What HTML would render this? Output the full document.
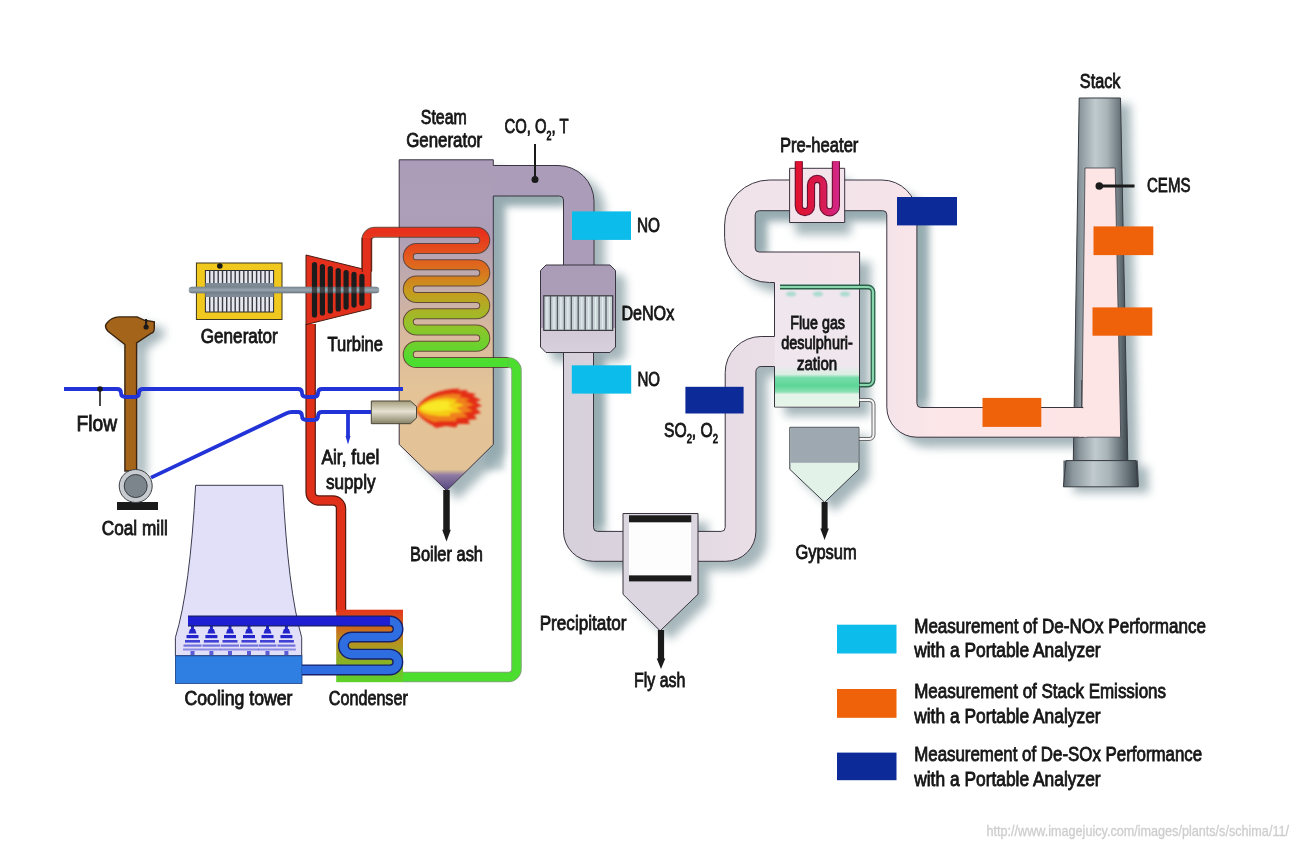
<!DOCTYPE html>
<html><head><meta charset="utf-8">
<style>
html,body{margin:0;padding:0;background:#fff;width:1300px;height:849px;overflow:hidden}
svg{display:block}
text{font-family:"Liberation Sans",sans-serif;fill:#161616;stroke:#161616;stroke-width:0.85}
</style></head><body>
<svg width="1300" height="849" viewBox="0 0 1300 849">
<defs>
  <filter id="blur3" x="-50%" y="-50%" width="200%" height="200%"><feGaussianBlur stdDeviation="3"/></filter>
  <filter id="blur5" x="-50%" y="-50%" width="200%" height="200%"><feGaussianBlur stdDeviation="5"/></filter>
  <filter id="blur1" x="-50%" y="-50%" width="200%" height="200%"><feGaussianBlur stdDeviation="0.8"/></filter>
  <linearGradient id="gBoiler" x1="0" y1="160" x2="0" y2="491" gradientUnits="userSpaceOnUse">
    <stop offset="0" stop-color="#ab9db9"/>
    <stop offset="0.22" stop-color="#ad9eb8"/>
    <stop offset="0.52" stop-color="#d8b99e"/>
    <stop offset="0.7" stop-color="#e4c497"/>
    <stop offset="0.935" stop-color="#e2c296"/>
    <stop offset="0.952" stop-color="#8e7aa2"/>
    <stop offset="1" stop-color="#52427e"/>
  </linearGradient>
  <linearGradient id="gCoil" x1="0" y1="232" x2="0" y2="363" gradientUnits="userSpaceOnUse">
    <stop offset="0" stop-color="#e8301c"/>
    <stop offset="0.22" stop-color="#e2601e"/>
    <stop offset="0.45" stop-color="#c89a1e"/>
    <stop offset="0.7" stop-color="#96c22a"/>
    <stop offset="1" stop-color="#4ade30"/>
  </linearGradient>
  <linearGradient id="gCond" x1="0" y1="610" x2="0" y2="682" gradientUnits="userSpaceOnUse">
    <stop offset="0" stop-color="#e4361a"/>
    <stop offset="0.45" stop-color="#b8921e"/>
    <stop offset="1" stop-color="#5cd22a"/>
  </linearGradient>
  <linearGradient id="gU" x1="563" y1="0" x2="756" y2="0" gradientUnits="userSpaceOnUse">
    <stop offset="0" stop-color="#d6d0db"/>
    <stop offset="0.5" stop-color="#ddd6df"/>
    <stop offset="1" stop-color="#ebdfe7"/>
  </linearGradient>
  <linearGradient id="gC" x1="724" y1="0" x2="1083" y2="0" gradientUnits="userSpaceOnUse">
    <stop offset="0" stop-color="#efe3ea"/>
    <stop offset="0.45" stop-color="#f4e4ea"/>
    <stop offset="0.6" stop-color="#fce6e8"/>
    <stop offset="1" stop-color="#fde5e6"/>
  </linearGradient>
  <linearGradient id="gDenox" x1="0" y1="265" x2="0" y2="353" gradientUnits="userSpaceOnUse">
    <stop offset="0" stop-color="#aa9bb7"/>
    <stop offset="0.72" stop-color="#ad9fba"/>
    <stop offset="0.72" stop-color="#d2c9d7"/>
    <stop offset="1" stop-color="#d8d0dc"/>
  </linearGradient>
  <linearGradient id="gStack" x1="0" y1="0" x2="1" y2="0">
    <stop offset="0" stop-color="#5e686e"/>
    <stop offset="0.12" stop-color="#8a969c"/>
    <stop offset="0.4" stop-color="#c0cacf"/>
    <stop offset="0.62" stop-color="#a8b4b8"/>
    <stop offset="0.85" stop-color="#6a767c"/>
    <stop offset="1" stop-color="#3c454c"/>
  </linearGradient>
  <linearGradient id="gStackTop" x1="0" y1="98" x2="0" y2="170" gradientUnits="userSpaceOnUse">
    <stop offset="0" stop-color="#ffffff" stop-opacity="0"/>
    <stop offset="0.7" stop-color="#ffffff" stop-opacity="0.05"/>
    <stop offset="1" stop-color="#ffffff" stop-opacity="0"/>
  </linearGradient>
  <linearGradient id="gBurner" x1="0" y1="401" x2="0" y2="424" gradientUnits="userSpaceOnUse">
    <stop offset="0" stop-color="#a49c7c"/>
    <stop offset="0.45" stop-color="#e6e2d2"/>
    <stop offset="1" stop-color="#847e62"/>
  </linearGradient>
  <linearGradient id="gShaft" x1="0" y1="286" x2="0" y2="294" gradientUnits="userSpaceOnUse">
    <stop offset="0" stop-color="#6e7a84"/>
    <stop offset="0.5" stop-color="#9aa8b2"/>
    <stop offset="1" stop-color="#5e6a74"/>
  </linearGradient>
</defs>
<rect width="1300" height="849" fill="#ffffff"/>

<!-- shadows -->
<g fill="#6f8a92" opacity="0.62" filter="url(#blur5)">
<path transform="translate(11,9)" d="M399.2,159.8 H493.3 V165.5 H558 A36 36 0 0 1 594,201.5 V265 H563.5 V200 A4 4 0 0 0 559.5,196 H493.3 V444.5 L446.7,490.6 L399.2,444.5 Z"/>
<path transform="translate(10,9)" d="M546,265 H610 L615.5,270.5 V347 L610,352.5 H546 L540.5,347 V270.5 Z"/>
<path transform="translate(11,9)" d="M563.5,352.5 V531.3 A30 30 0 0 0 593.5,561.3 H725.9 A30 30 0 0 0 755.9,531.3 V371.5 A5 5 0 0 1 760.9,366.5 H777 V336.5 H761.2 A36 36 0 0 0 725.2,372.5 V527.4 A4 4 0 0 1 721.2,531.4 H597.5 A4 4 0 0 1 593.5,527.4 V352.5 Z"/>
<path transform="translate(10,9)" d="M623,513.5 H698 V594.3 L660.2,630.8 L623,594.3 Z"/>
<path transform="translate(11,10)" d="M774.5,282.5 H769.6 A45 45 0 0 1 724.6,237.5 V225 A45 45 0 0 1 769.6,180 H881.9 A35 35 0 0 1 916.9,215 V403.5 A4 4 0 0 0 920.9,407.5 H1083 V437.2 H916.8 A30 30 0 0 1 886.8,407.2 V214.7 A4 4 0 0 0 882.8,210.7 H759.2 A4 4 0 0 0 755.2,214.7 V248 A4 4 0 0 0 759.2,252 H859.6 V282.5 Z"/>
<path transform="translate(10,9)" d="M774.5,282.5 H859.5 V407 H774.5 Z"/>
<path transform="translate(10,9)" d="M789.8,427.3 H858.9 V469.3 L824.6,502.3 L789.8,469.3 Z"/>
<path transform="translate(10,6)" d="M1079.2,98 H1120.5 L1127.8,460.6 H1137.7 L1139,486.8 H1063.4 V460.6 H1073.3 Z"/>
<path transform="translate(10,6)" d="M124.9,344.5 L108,331.2 C105,328 105,325 107,323 C110,319 114,317 119.1,316.9 H137.1 L144.5,320.3 L154.3,321.9 V328 C154.3,331 153,333 150.9,333.3 L136.6,342.9 V471 H124.9 Z"/>
<path transform="translate(6,12)" d="M789.6,168.3 H844.7 V222.5 H789.6 Z"/>
</g>
<g fill="#86a0a6" opacity="0.55" filter="url(#blur3)">
<path d="M485,188 H563 V205 H504 V470 H485 Z"/>
<path d="M585,352 H604 V525 H585 Z"/>
<path d="M748,204 H887 V219 H766 V252 H748 Z"/>
<path d="M910,210 H928 V400 H910 Z"/>
</g>
<path d="M490,165.5 H558 A36 36 0 0 1 594,201.5 V265 H563.5 V200 A4 4 0 0 0 559.5,196 H490 Z" fill="#ab9db9"/>
<path d="M399.2,159.8 H493.3 V444.5 L446.7,490.6 L399.2,444.5 Z" fill="url(#gBoiler)"/>
<path d="M563.5,265 V200 A4 4 0 0 0 559.5,196 H493.3 V444.5 L446.7,490.6 L399.2,444.5 V159.8 H493.3 V165.5 H558 A36 36 0 0 1 594,201.5 V265" fill="none" stroke="#3a3440" stroke-width="1"/>
<path d="M563.5,352.5 V531.3 A30 30 0 0 0 593.5,561.3 H725.9 A30 30 0 0 0 755.9,531.3 V371.5 A5 5 0 0 1 760.9,366.5 H777 V336.5 H761.2 A36 36 0 0 0 725.2,372.5 V527.4 A4 4 0 0 1 721.2,531.4 H597.5 A4 4 0 0 1 593.5,527.4 V352.5 Z" fill="url(#gU)" stroke="#3a3440" stroke-width="1"/>
<path d="M546,265 H610 L615.5,270.5 V347 L610,352.5 H546 L540.5,347 V270.5 Z" fill="url(#gDenox)" stroke="#3a3440" stroke-width="1"/>
<rect x="543.8" y="295.8" width="68.9" height="34.6" fill="#c6d2d6" stroke="#3a3a40" stroke-width="1.2"/>
<g stroke="#55595f" stroke-width="1.3"><line x1="550.5" y1="296" x2="550.5" y2="330"/><line x1="557.4" y1="296" x2="557.4" y2="330"/><line x1="564.4" y1="296" x2="564.4" y2="330"/><line x1="571.3" y1="296" x2="571.3" y2="330"/><line x1="578.2" y1="296" x2="578.2" y2="330"/><line x1="585.2" y1="296" x2="585.2" y2="330"/><line x1="592.1" y1="296" x2="592.1" y2="330"/><line x1="599.1" y1="296" x2="599.1" y2="330"/><line x1="606.0" y1="296" x2="606.0" y2="330"/></g>
<g stroke="#eef2f4" stroke-width="1.2" opacity="0.8"><line x1="547.0" y1="297" x2="547.0" y2="329"/><line x1="554.0" y1="297" x2="554.0" y2="329"/><line x1="560.9" y1="297" x2="560.9" y2="329"/><line x1="567.9" y1="297" x2="567.9" y2="329"/><line x1="574.8" y1="297" x2="574.8" y2="329"/><line x1="581.8" y1="297" x2="581.8" y2="329"/><line x1="588.7" y1="297" x2="588.7" y2="329"/><line x1="595.6" y1="297" x2="595.6" y2="329"/><line x1="602.6" y1="297" x2="602.6" y2="329"/><line x1="609.5" y1="297" x2="609.5" y2="329"/></g>
<path d="M623,513.5 H698 V594.3 L660.2,630.8 L623,594.3 Z" fill="#dcd6e0" stroke="#3a3440" stroke-width="1"/>
<rect x="629" y="522" width="62" height="53.5" fill="#fdfdfd"/>
<rect x="629" y="515.3" width="62.3" height="7" fill="#1c1c1c"/>
<rect x="629" y="575.4" width="62.3" height="6" fill="#1c1c1c"/>
<path d="M1079.2,98 H1120.5 L1127.8,460.6 H1137.7 L1139,486.8 H1063.4 V460.6 H1073.3 Z" fill="url(#gStack)"/>
<path d="M1079.2,98 H1120.5 L1127.8,460.6 H1073.3 Z" fill="url(#gStack)" stroke="#3a3e44" stroke-width="1"/>
<path d="M1066,460.6 H1136 L1138,486.8 H1063.4 Z" fill="url(#gStack)" stroke="#3a3e44" stroke-width="1"/>
<path d="M1085,168 H1115.2 L1120.7,437.2 H1081.6 Z" fill="#fde5e6" stroke="#3a3e44" stroke-width="0.8"/>
<path d="M774.5,282.5 H769.6 A45 45 0 0 1 724.6,237.5 V225 A45 45 0 0 1 769.6,180 H881.9 A35 35 0 0 1 916.9,215 V403.5 A4 4 0 0 0 920.9,407.5 H1083 V437.2 H916.8 A30 30 0 0 1 886.8,407.2 V214.7 A4 4 0 0 0 882.8,210.7 H759.2 A4 4 0 0 0 755.2,214.7 V248 A4 4 0 0 0 759.2,252 H859.6 V282.5 Z" fill="url(#gC)" stroke="#3a3440" stroke-width="1"/>
<rect x="1079" y="408.2" width="8" height="28.5" fill="#fde5e6"/>
<path d="M1081.6,407.5 V380" stroke="#3a3e44" stroke-width="0.8"/>
<rect x="774.5" y="282" width="85" height="125" fill="#efe6ee"/>
<path d="M774.5,282.5 V336.5 M774.5,366.5 V407 H859.5 V282.5" fill="none" stroke="#3a3440" stroke-width="1"/>
<linearGradient id="gFgd" x1="0" y1="365" x2="0" y2="407" gradientUnits="userSpaceOnUse"><stop offset="0" stop-color="#efe6ee"/><stop offset="0.22" stop-color="#dcefe4"/><stop offset="0.3" stop-color="#78dcaa"/><stop offset="0.5" stop-color="#5cd696"/><stop offset="0.64" stop-color="#8ee0b4"/><stop offset="0.7" stop-color="#e4f4e8"/><stop offset="1" stop-color="#e8f6ea"/></linearGradient>
<rect x="775" y="365" width="84" height="41.5" fill="url(#gFgd)"/>
<g fill="#9ad8c8" opacity="0.8" filter="url(#blur1)"><ellipse cx="791" cy="294" rx="5" ry="2.5"/><ellipse cx="818" cy="294" rx="5" ry="2.5"/><ellipse cx="845" cy="294" rx="5" ry="2.5"/></g>
<path d="M780,287 H868 A5 5 0 0 1 873,292 V380 A5 5 0 0 1 868,385 H859.5" fill="none" stroke="#2a6248" stroke-width="4.8"/>
<path d="M780,287 H868 A5 5 0 0 1 873,292 V380 A5 5 0 0 1 868,385 H859.5" fill="none" stroke="#8ad4ae" stroke-width="2.2"/>
<path d="M859.5,400 H869 A4.5 4.5 0 0 1 873.5,404.5 V434.5 A4.5 4.5 0 0 1 869,439 H859" fill="none" stroke="#6a6a6a" stroke-width="4"/>
<path d="M859.5,400 H869 A4.5 4.5 0 0 1 873.5,404.5 V434.5 A4.5 4.5 0 0 1 869,439 H859" fill="none" stroke="#f6f6f6" stroke-width="2"/>
<path d="M789.8,427.3 H858.9 V469.3 L824.6,502.3 L789.8,469.3 Z" fill="#e2f2e8" stroke="#3a3e44" stroke-width="1"/>
<rect x="790.3" y="427.8" width="68.1" height="35" fill="#9ea8b0"/>
<path d="M824.6,502 V530" stroke="#1a1a1a" stroke-width="6"/>
<path d="M820.3,528.5 H828.9 L824.6,540 Z" fill="#1a1a1a"/>
<path d="M789.6,168.3 H844.7 V222.5 H789.6 Z" fill="#f2e4ea" stroke="#3a3440" stroke-width="1"/>
<linearGradient id="gPh" x1="795" y1="0" x2="840" y2="0" gradientUnits="userSpaceOnUse"><stop offset="0" stop-color="#e2102c"/><stop offset="0.6" stop-color="#d81a50"/><stop offset="1" stop-color="#d42890"/></linearGradient>
<path d="M798.8,161.3 V206 A6.1 6.1 0 0 0 811,206 V185 A6.15 6.15 0 0 1 823.3,185 V206 A6.3 6.3 0 0 0 835.9,206 V161.3" fill="none" stroke="#6a1034" stroke-width="8.2"/>
<path d="M798.8,161.3 V206 A6.1 6.1 0 0 0 811,206 V185 A6.15 6.15 0 0 1 823.3,185 V206 A6.3 6.3 0 0 0 835.9,206 V161.3" fill="none" stroke="url(#gPh)" stroke-width="6"/>
<path d="M366.75,271 V240.2 A8 8 0 0 1 374.75,232.2 H476.6 A8.15 8.15 0 0 1 476.6,248.5 H416.4 A8.15 8.15 0 0 0 416.4,264.8 H476.6 A8.15 8.15 0 0 1 476.6,281.1 H416.4 A8.15 8.15 0 0 0 416.4,297.4 H476.6 A8.15 8.15 0 0 1 476.6,313.7 H416.4 A8.15 8.15 0 0 0 416.4,330 H476.6 A8.15 8.15 0 0 1 476.6,346.3 H416.4 A8.15 8.15 0 0 0 416.4,362.6 H508.5" fill="none" stroke="#4a3020" stroke-width="11" stroke-linejoin="round" opacity="0.8"/>
<path d="M508.5,362.6 A8 8 0 0 1 516.5,370.6 V669 A8 8 0 0 1 508.5,677 H403" fill="none" stroke="#2a6a1a" stroke-width="10.5" opacity="0.6"/>
<path d="M366.75,271 V240.2 A8 8 0 0 1 374.75,232.2 H476.6 A8.15 8.15 0 0 1 476.6,248.5 H416.4 A8.15 8.15 0 0 0 416.4,264.8 H476.6 A8.15 8.15 0 0 1 476.6,281.1 H416.4 A8.15 8.15 0 0 0 416.4,297.4 H476.6 A8.15 8.15 0 0 1 476.6,313.7 H416.4 A8.15 8.15 0 0 0 416.4,330 H476.6 A8.15 8.15 0 0 1 476.6,346.3 H416.4 A8.15 8.15 0 0 0 416.4,362.6 H508.5" fill="none" stroke="url(#gCoil)" stroke-width="9"/>
<path d="M508.5,362.6 A8 8 0 0 1 516.5,370.6 V669 A8 8 0 0 1 508.5,677 H403" fill="none" stroke="#4cde2e" stroke-width="8.5"/>
<g filter="url(#blur1)">
<path d="M416,410 C420,399 434,391 452,389 L460,388.5 L458,390.5 L468,390 L466,392 L476,394 L473,396 L481,400 L476,402 L482,406 L476,408 L481,413 L474,415 L477,419 L468,420 L470,424 L458,424 L456,427.5 L446,426 L436,428 L432,425 C424,421 418,416 416,410 Z" fill="#e42e18"/>
<path d="M417,410 C422,401 434,395 452,394 L462,394.5 L459,397 L470,399 L465,401 L474,405 L466,407 L473,411 L463,413 L468,417 L456,418 L456,421 L442,421 L434,422 C426,419 419,415 417,410 Z" fill="#f0801c"/>
<path d="M418,409 C423,402 434,398 448,398 L458,399.5 L454,402 L464,405 L456,408 L462,412 L450,413 L450,416 L438,416 C429,415 421,413 418,409 Z" fill="#f6cc18"/>
<path d="M420,408 C426,403 436,400 446,401 L452,403 L448,406 L454,409 L442,411 C432,412 424,411 420,408 Z" fill="#f8e828"/>
</g>
<path d="M371.3,401 H410.5 L416.5,406.5 V418 L410.5,423.7 H371.3 Z" fill="url(#gBurner)" stroke="#4a4638" stroke-width="1"/>
<path d="M446.5,490 V531" stroke="#1a1a1a" stroke-width="6.5"/>
<path d="M442.2,529.8 H450.8 L446.5,541.5 Z" fill="#1a1a1a"/>
<path d="M661,630 V660" stroke="#1a1a1a" stroke-width="6.2"/>
<path d="M656.7,658.6 H665.3 L661,669 Z" fill="#1a1a1a"/>
<path d="M310.65,324 V492.5 A8 8 0 0 0 318.65,500.5 H333 A8 8 0 0 1 341,508.5 V612" fill="none" stroke="#5a1a10" stroke-width="10.5"/>
<path d="M310.65,324 V492.5 A8 8 0 0 0 318.65,500.5 H333 A8 8 0 0 1 341,508.5 V612" fill="none" stroke="#e0301a" stroke-width="8"/>
<rect x="196.4" y="263" width="85.6" height="56.5" fill="#f0c81e" stroke="#3a3420" stroke-width="1"/>
<rect x="205.4" y="270.5" width="68.2" height="41.5" fill="#e6e8ee" stroke="#2a2a30" stroke-width="1"/>
<g stroke="#3a3c44" stroke-width="1.4"><path d="M209.7,270.5 V283 M209.7,297 V312"/><path d="M213.9,270.5 V283 M213.9,297 V312"/><path d="M218.2,270.5 V283 M218.2,297 V312"/><path d="M222.5,270.5 V283 M222.5,297 V312"/><path d="M226.7,270.5 V283 M226.7,297 V312"/><path d="M231.0,270.5 V283 M231.0,297 V312"/><path d="M235.2,270.5 V283 M235.2,297 V312"/><path d="M239.5,270.5 V283 M239.5,297 V312"/><path d="M243.8,270.5 V283 M243.8,297 V312"/><path d="M248.0,270.5 V283 M248.0,297 V312"/><path d="M252.3,270.5 V283 M252.3,297 V312"/><path d="M256.6,270.5 V283 M256.6,297 V312"/><path d="M260.8,270.5 V283 M260.8,297 V312"/><path d="M265.1,270.5 V283 M265.1,297 V312"/><path d="M269.3,270.5 V283 M269.3,297 V312"/></g>
<rect x="205.4" y="283" width="68.2" height="14" fill="#7e8a96"/>
<circle cx="219.8" cy="266" r="2.8" fill="#1a1a1a"/>
<path d="M306,255 L371,271 V308.5 L306,324.6 Z" fill="#e2301c" stroke="#4a1a10" stroke-width="1"/>
<path d="M366.75,272 V238" stroke="#5a1a10" stroke-width="10"/><path d="M366.75,272 V238" stroke="#e2301c" stroke-width="8"/>
<path d="M192,290 H376" stroke="url(#gShaft)" stroke-width="6.5" stroke-linecap="round"/>
<g fill="#1c1c1c"><rect x="311.9" y="262.1" width="5.2" height="55.4" rx="2.6"/><rect x="319.8" y="264.0" width="5.2" height="51.5" rx="2.6"/><rect x="327.7" y="266.0" width="5.2" height="47.6" rx="2.6"/><rect x="335.6" y="267.9" width="5.2" height="43.7" rx="2.6"/><rect x="343.5" y="269.9" width="5.2" height="39.8" rx="2.6"/><rect x="351.4" y="271.8" width="5.2" height="35.9" rx="2.6"/><rect x="359.3" y="273.8" width="5.2" height="32.0" rx="2.6"/></g>
<path d="M192,290 H376" stroke="url(#gShaft)" stroke-width="6.5" stroke-linecap="round" opacity="0.3"/>
<path d="M124.9,344.5 L108,331.2 C105,328 105,325 107,323 C110,319 114,317 119.1,316.9 H137.1 L144.5,320.3 L154.3,321.9 V328 C154.3,331 153,333 150.9,333.3 L136.6,342.9 V471 H124.9 Z" fill="#a4641a" stroke="#3a2410" stroke-width="1.4"/>
<circle cx="146.1" cy="327" r="2.6" fill="#1a1a1a"/><path d="M146.1,327 V319" stroke="#1a1a1a" stroke-width="2"/>
<rect x="117" y="502" width="41" height="8" fill="#1a1a1a"/>
<circle cx="135.7" cy="486" r="16.5" fill="#c8ccd0" stroke="#3a3e44" stroke-width="1"/>
<circle cx="135.7" cy="486" r="11.5" fill="#7c858c" stroke="#3a3e44" stroke-width="1"/>
<g fill="none" stroke="#2233d8" stroke-width="3.8" stroke-linejoin="round">
  <path d="M64,389 H117 Q121,389 121,393 Q121,397 126,397 H134 Q139,397 139,393 Q139,389 143,389 H298 Q302,389 302,393 Q302,397 307,397 H314 Q318,397 318,393 Q318,389 322,389 H403"/>
  <path d="M151,477.6 L286,413.5 C288,412.5 290,412 292,412 H298 Q302,412 302,416 Q302,420 307,420 H314 Q318,420 318,416 Q318,412 322,412 H371"/>
  <path d="M348,412 V438"/>
</g>
<path d="M345.5,436 H350.5 L348,444.5 Z" fill="#2233d8"/>
<circle cx="100" cy="389" r="2.8" fill="#1a1a1a"/><path d="M100,389 V406" stroke="#1a1a1a" stroke-width="1.6"/>
<path d="M195.6,485.3 H282.7 Q288,590 301.7,637.5 V655.8 H175.4 V637.5 Q190,590 195.6,485.3 Z" fill="#e2e0f8" stroke="#3a3a50" stroke-width="1"/>
<rect x="175.4" y="655.8" width="126.6" height="27.6" fill="#2f7fe2" stroke="#1a3a80" stroke-width="0.8"/>
<g fill="#2424cc"><rect x="191.0" y="625" width="3" height="4"/><path d="M190.0,629 H195.0 L196.5,633.5 H188.5 Z"/><rect x="186.5" y="635" width="12" height="3.2"/><rect x="185.0" y="640" width="15" height="2.6" opacity="0.85"/><rect x="183.5" y="644.5" width="18" height="2.2" opacity="0.6"/><rect x="183.0" y="648.5" width="19" height="2" opacity="0.45"/><rect x="190.5" y="651" width="4" height="4" opacity="0.7"/><rect x="209.9" y="625" width="3" height="4"/><path d="M208.9,629 H213.9 L215.4,633.5 H207.4 Z"/><rect x="205.4" y="635" width="12" height="3.2"/><rect x="203.9" y="640" width="15" height="2.6" opacity="0.85"/><rect x="202.4" y="644.5" width="18" height="2.2" opacity="0.6"/><rect x="201.9" y="648.5" width="19" height="2" opacity="0.45"/><rect x="209.4" y="651" width="4" height="4" opacity="0.7"/><rect x="228.5" y="625" width="3" height="4"/><path d="M227.5,629 H232.5 L234,633.5 H226 Z"/><rect x="224" y="635" width="12" height="3.2"/><rect x="222.5" y="640" width="15" height="2.6" opacity="0.85"/><rect x="221" y="644.5" width="18" height="2.2" opacity="0.6"/><rect x="220.5" y="648.5" width="19" height="2" opacity="0.45"/><rect x="228" y="651" width="4" height="4" opacity="0.7"/><rect x="247.5" y="625" width="3" height="4"/><path d="M246.5,629 H251.5 L253,633.5 H245 Z"/><rect x="243" y="635" width="12" height="3.2"/><rect x="241.5" y="640" width="15" height="2.6" opacity="0.85"/><rect x="240" y="644.5" width="18" height="2.2" opacity="0.6"/><rect x="239.5" y="648.5" width="19" height="2" opacity="0.45"/><rect x="247" y="651" width="4" height="4" opacity="0.7"/><rect x="266.0" y="625" width="3" height="4"/><path d="M265.0,629 H270.0 L271.5,633.5 H263.5 Z"/><rect x="261.5" y="635" width="12" height="3.2"/><rect x="260.0" y="640" width="15" height="2.6" opacity="0.85"/><rect x="258.5" y="644.5" width="18" height="2.2" opacity="0.6"/><rect x="258.0" y="648.5" width="19" height="2" opacity="0.45"/><rect x="265.5" y="651" width="4" height="4" opacity="0.7"/><rect x="284.9" y="625" width="3" height="4"/><path d="M283.9,629 H288.9 L290.4,633.5 H282.4 Z"/><rect x="280.4" y="635" width="12" height="3.2"/><rect x="278.9" y="640" width="15" height="2.6" opacity="0.85"/><rect x="277.4" y="644.5" width="18" height="2.2" opacity="0.6"/><rect x="276.9" y="648.5" width="19" height="2" opacity="0.45"/><rect x="284.4" y="651" width="4" height="4" opacity="0.7"/></g>
<rect x="336.2" y="609.7" width="66.8" height="72.5" fill="url(#gCond)"/>
<path d="M188,621 H390 A8 8 0 0 1 390,637 H352 A8.6 8.6 0 0 0 352,654.2 H390 A7.85 7.85 0 0 1 390,669.9 H302" fill="none" stroke="#18206a" stroke-width="11"/>
<path d="M188,621 H390 A8 8 0 0 1 390,637 H352 A8.6 8.6 0 0 0 352,654.2 H390 A7.85 7.85 0 0 1 390,669.9 H302" fill="none" stroke="#2e6ee0" stroke-width="8.2"/>
<path d="M188,621 H390" fill="none" stroke="#1e1ed2" stroke-width="8.6"/>
<rect x="572" y="211.4" width="59" height="28.5" fill="#0cbcea"/>
<rect x="571.8" y="365.3" width="59.4" height="28.3" fill="#0cbcea"/>
<rect x="685.4" y="386.8" width="58.2" height="26.7" fill="#0c2a98"/>
<rect x="897" y="197" width="60" height="28.4" fill="#0c2a98"/>
<rect x="1093.5" y="226.4" width="59.8" height="28.7" fill="#f0620a"/>
<rect x="1092.5" y="307.4" width="59.8" height="28.3" fill="#f0620a"/>
<rect x="982.5" y="397.9" width="58.8" height="29" fill="#f0620a"/>
<path d="M535,144 V179" stroke="#1a1a1a" stroke-width="2"/><circle cx="535" cy="179.5" r="3.5" fill="#1a1a1a"/>
<path d="M1099.3,186 H1134.5" stroke="#1a1a1a" stroke-width="2.8"/><circle cx="1099.3" cy="186" r="3.8" fill="#1a1a1a"/><!-- TEXT -->
<g font-size="20.8">
  <text x="76.5" y="431" textLength="40.5" lengthAdjust="spacingAndGlyphs" font-size="22">Flow</text>
  <text x="200.8" y="343" textLength="77" lengthAdjust="spacingAndGlyphs">Generator</text>
  <text x="327.5" y="350.5" textLength="55.5" lengthAdjust="spacingAndGlyphs">Turbine</text>
  <text x="420.8" y="123.5" textLength="46" lengthAdjust="spacingAndGlyphs">Steam</text>
  <text x="406.2" y="147.3" textLength="76" lengthAdjust="spacingAndGlyphs">Generator</text>
  <text x="321.4" y="464.1" textLength="58" lengthAdjust="spacingAndGlyphs">Air, fuel</text>
  <text x="326" y="488.8" textLength="49.5" lengthAdjust="spacingAndGlyphs">supply</text>
  <text x="101.8" y="534.5" textLength="66" lengthAdjust="spacingAndGlyphs">Coal mill</text>
  <text x="410" y="560.6" textLength="73" lengthAdjust="spacingAndGlyphs">Boiler ash</text>
  <text x="184.5" y="704.9" textLength="108" lengthAdjust="spacingAndGlyphs">Cooling tower</text>
  <text x="328.8" y="705.3" textLength="79" lengthAdjust="spacingAndGlyphs">Condenser</text>
  <text x="539.7" y="629.6" textLength="86.7" lengthAdjust="spacingAndGlyphs">Precipitator</text>
  <text x="634" y="687.4" textLength="51.4" lengthAdjust="spacingAndGlyphs">Fly ash</text>
  <text x="621.4" y="319.7" textLength="52.8" lengthAdjust="spacingAndGlyphs">DeNOx</text>
  <text x="637" y="232" textLength="23" lengthAdjust="spacingAndGlyphs">NO</text>
  <text x="637.4" y="386" textLength="22.6" lengthAdjust="spacingAndGlyphs">NO</text>
  <text x="780" y="151.8" textLength="78.4" lengthAdjust="spacingAndGlyphs">Pre-heater</text>
  <text x="1079.8" y="87.5" textLength="40.7" lengthAdjust="spacingAndGlyphs">Stack</text>
  <text x="1147" y="192.4" textLength="43.5" lengthAdjust="spacingAndGlyphs">CEMS</text>
  <text x="795.4" y="558.8" textLength="61.3" lengthAdjust="spacingAndGlyphs">Gypsum</text>
</g>
<g font-size="18">
  <text x="790.2" y="328.6" textLength="54.8" lengthAdjust="spacingAndGlyphs">Flue gas</text>
  <text x="781.2" y="349.4" textLength="71.6" lengthAdjust="spacingAndGlyphs">desulphuri-</text>
  <text x="796.9" y="369.5" textLength="40.3" lengthAdjust="spacingAndGlyphs">zation</text>
</g>
<g font-size="20">
  <text x="504.6" y="132.7" textLength="64" lengthAdjust="spacingAndGlyphs">CO, O<tspan font-size="12" dy="7.5">2</tspan><tspan dy="-7.5">, T</tspan></text>
  <text x="664" y="436.5" textLength="54" lengthAdjust="spacingAndGlyphs">SO<tspan font-size="12" dy="6">2</tspan><tspan dy="-6">, O</tspan><tspan font-size="12" dy="6">2</tspan></text>
</g>
<!-- LEGEND -->
<rect x="837" y="624.7" width="59.5" height="28.8" fill="#0cbcea"/>
<rect x="837" y="689" width="59.5" height="28.8" fill="#f0620a"/>
<rect x="837" y="752.6" width="59.5" height="27.6" fill="#0c2a98"/>
<g font-size="20.5">
  <text x="914.2" y="632.8" textLength="291.7" lengthAdjust="spacingAndGlyphs">Measurement of De-NOx Performance</text>
  <text x="914.2" y="657.4" textLength="186.4" lengthAdjust="spacingAndGlyphs">with a Portable Analyzer</text>
  <text x="914.2" y="697.7" textLength="251.8" lengthAdjust="spacingAndGlyphs">Measurement of Stack Emissions</text>
  <text x="914.2" y="722.5" textLength="186.4" lengthAdjust="spacingAndGlyphs">with a Portable Analyzer</text>
  <text x="914.2" y="761.3" textLength="288" lengthAdjust="spacingAndGlyphs">Measurement of De-SOx Performance</text>
  <text x="914.2" y="786" textLength="186.4" lengthAdjust="spacingAndGlyphs">with a Portable Analyzer</text>
</g>
<text x="986.5" y="836" font-size="14.5" textLength="302.5" lengthAdjust="spacingAndGlyphs" style="fill:#cdcdcd;stroke:#cdcdcd;stroke-width:0.3">http://www.imagejuicy.com/images/plants/s/schima/11/</text>
</svg>
</body></html>
